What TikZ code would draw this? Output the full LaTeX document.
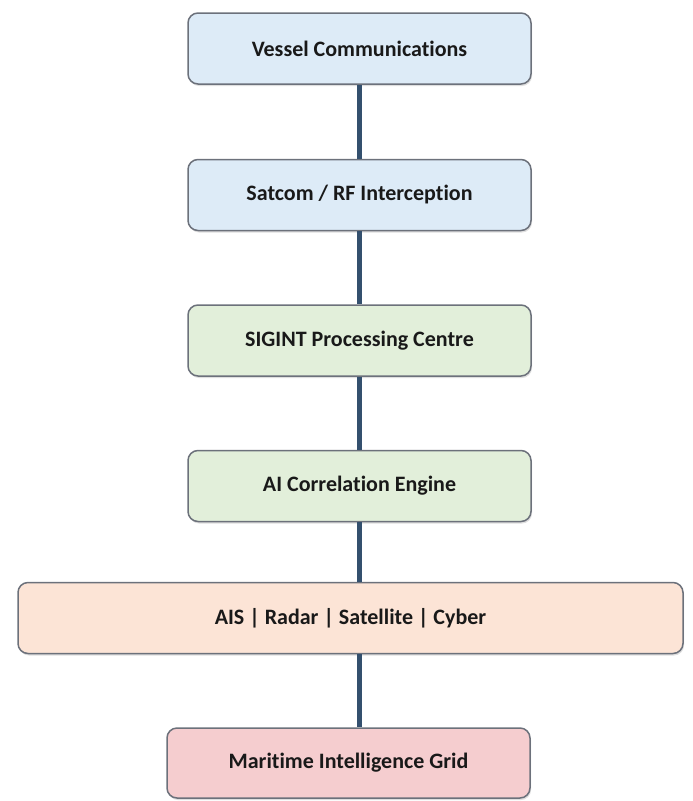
\documentclass[tikz,border=0pt]{standalone}
\usepackage{fontspec}
\setmainfont{Carlito}[Ligatures=NoCommon]
\usetikzlibrary{shadows}

\definecolor{boxblue}{HTML}{DDEBF7}
\definecolor{boxgreen}{HTML}{E2EFDA}
\definecolor{boxpeach}{HTML}{FCE4D6}
\definecolor{boxpink}{HTML}{F5CDCF}
\definecolor{rimgray}{HTML}{6C717B}
\definecolor{linkblue}{HTML}{34506E}

\begin{document}
\begin{tikzpicture}[
  x=1pt, y=1pt,
  stage/.style={draw=rimgray, line width=1.5pt, rounded corners=10pt,
    minimum height=71pt, minimum width=343pt, inner sep=0pt,
    drop shadow={shadow xshift=1pt, shadow yshift=-2pt, opacity=.25},
    font=\fontsize{22}{26}\selectfont\bfseries, text=black!90},
  link/.style={draw=linkblue, line width=4.5pt}
]
  \useasboundingbox (0,0) rectangle (693,-801);

  \node[stage, fill=boxblue]  (vessel) at (359.5,-48.5) {Vessel Communications};
  \node[stage, fill=boxblue]  (satcom) at (359.5,-195)  {Satcom / RF Interception};
  \node[stage, fill=boxgreen] (sigint) at (359.5,-340.5) {SIGINT Processing Centre};
  \node[stage, fill=boxgreen] (engine) at (359.5,-486)  {AI Correlation Engine};
  \node[stage, fill=boxpeach, minimum width=665pt] (sources) at (350.5,-618)
    {AIS | Radar | Satellite | Cyber};
  \node[stage, fill=boxpink, minimum width=363pt, minimum height=70pt] (grid) at (348.5,-763)
    {Maritime Intelligence Grid};

  % vertical links
  \draw[link] (vessel.south) -- (satcom.north);
  \draw[link] (satcom.south) -- (sigint.north);
  \draw[link] (sigint.south) -- (engine.north);
  \draw[link] (engine.south) -- (sources.north -| engine.south);
  \draw[link] (sources.south -| engine.south) -- (grid.north -| engine.south);
\end{tikzpicture}
\end{document}
